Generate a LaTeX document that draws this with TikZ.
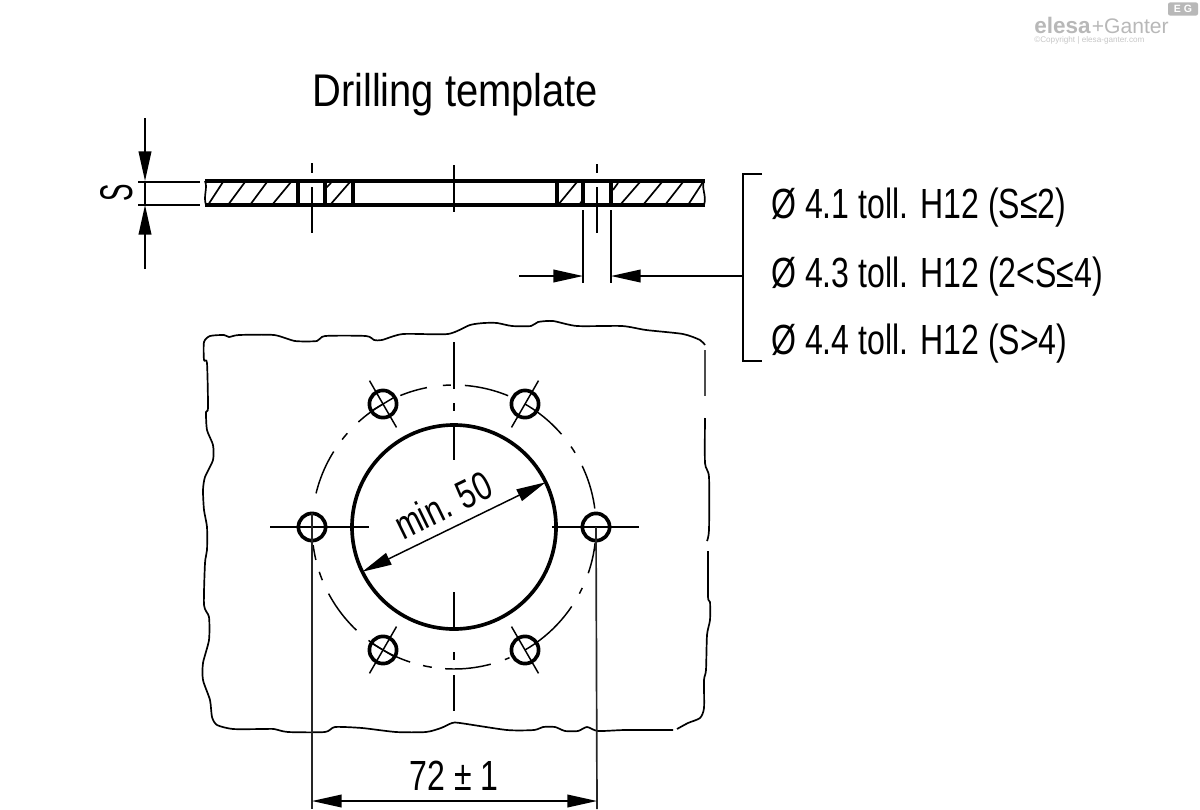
\documentclass[tikz,border=0pt]{standalone}
\usepackage{fontspec}
\usepackage{amsmath}
\usepackage{xcolor}
\usetikzlibrary{positioning,shapes,arrows.meta}
\setmainfont{Liberation Sans}
\newfontfamily\labelfont[FakeStretch=0.76]{Liberation Sans}
\newfontfamily\titlefont[FakeStretch=0.87]{Liberation Sans}
\definecolor{logogray}{gray}{0.72}

\begin{document}
\begin{tikzpicture}[x=0.025cm,y=-0.025cm]
\useasboundingbox (0,0) rectangle (1200,809);
\tikzstyle{thinline}=[line width=1.05pt,black]
\tikzstyle{midline}=[line width=1.2pt,black!85]
\tikzstyle{thickline}=[line width=2.6pt]
\tikzstyle{hatch}=[line width=1.2pt]
\tikzstyle{dimarrow}=[thinline,-{Triangle[length=21pt,width=9pt]}]
\tikzstyle{dimboth}=[thinline,{Triangle[length=21pt,width=9pt]}-{Triangle[length=21pt,width=9pt]}]
\tikzstyle{hole}=[draw,shape=circle,line width=2.6pt,minimum size=0.68cm,inner sep=0pt,outer sep=0pt]
\tikzstyle{bigtext}=[inner sep=0pt,anchor=base west,font=\labelfont\fontsize{30}{36}\selectfont]

% title and logo
\node[inner sep=0pt,anchor=base west,font=\titlefont\fontsize{32.6}{38}\selectfont] (title) at (312,106) {Drilling template};
\node[inner sep=0pt,anchor=base west,text=logogray,font=\bfseries\fontsize{16}{18}\selectfont] (elesa) at (1034,33) {elesa};
\node[inner sep=0pt,text=logogray,font=\fontsize{15}{18}\selectfont,right=0.5pt of elesa.base east,anchor=base west] (ganter) {+Ganter};
\node[inner sep=0pt,anchor=base west,text=logogray!80,font=\fontsize{5.8}{7}\selectfont] (copy) at (1034,42) {©Copyright | elesa-ganter.com};
\node[fill=logogray,rounded corners=1.5pt,inner sep=0pt,minimum width=0.75cm,minimum height=0.33cm,text=white,font=\bfseries\fontsize{7.5}{8}\selectfont] (eg) at (1183,9) {E G};

% section of the plate
\draw[thickline] (205,181) -- (705,181) (205,205) -- (705,205);
\draw[thickline] (298,181) -- (298,205) (325,181) -- (325,205) (353,181) -- (353,205);
\draw[thickline] (557,181) -- (557,205) (583,181) -- (583,205) (611,181) -- (611,205);
\draw[hatch] (205,181) .. controls (208,188) and (203,196) .. (206,205);
\draw[hatch] (704,181) .. controls (701,188) and (707,196) .. (704,205);
\foreach \a/\b in {208/223,228/245,250/267,272/291,330/350,558/577,620/640,643/662,665/683,688/703}
  \draw[hatch] (\a,205) -- (\b,182);
\draw[hatch] (326,188) -- (331,183) (613,190) -- (618,183) (579,205) -- (582,201);
\draw[thinline] (312,163) -- (312,173) (312,187) -- (312,233);
\draw[thinline] (454,165) -- (454,212);
\draw[thinline] (597,164) -- (597,173) (597,187) -- (597,233);

% dimension S
\coordinate (s1) at (145,118);
\coordinate (s2) at (145,181);
\coordinate (s3) at (145,205);
\coordinate (s4) at (145,269);
\draw[dimarrow] (s1) -- (s2);
\draw[dimarrow] (s4) -- (s3);
\draw[thinline] (s2) -- (s3);
\draw[thinline] (138,182) -- (200,182) (138,205) -- (200,205);
\node[inner sep=0pt,rotate=90,font=\labelfont\fontsize{32.6}{38}\selectfont] (sname) at (117,193) {\scalebox{0.75}[1]{S}};

% hole dimension with bracket
\coordinate (b1) at (762,174);
\coordinate (b2) at (743,174);
\coordinate (b3) at (743,361);
\coordinate (b4) at (762,361);
\coordinate (lead) at (743,276);
\coordinate (d1) at (583,276);
\coordinate (d2) at (611,276);
\coordinate (d0) at (519,276);
\draw[thinline] (b1) -- (b2) -- (b3) -- (b4);
\draw[dimarrow] (d0) -- (d1);
\draw[dimarrow] (lead) -- (d2);
\draw[thinline] (583,210) -- (583,283) (611,210) -- (611,283);
\node[bigtext] (tol1) at (771,218) {Ø 4.1 toll. H12 (S≤2)};
\node[bigtext] (tol2) at (771,287) {Ø 4.3 toll. H12 (2<S≤4)};
\node[bigtext] (tol3) at (771,354) {Ø 4.4 toll. H12 (S>4)};

% plate outline
\draw[line width=1.2pt] plot[smooth,tension=0.4] coordinates {(705,345) (700,340) (683,334) (646,330) (622,326) (577,326) (553,321) (538,322) (531,326) (512,326) (497,323) (484,323) (470,325) (448,334) (403,334) (382,340) (374,340) (366,336) (325,336) (317,341) (295,341) (274,335) (239,335) (229,337) (224,335) (210,336) (204,342) (204,360) (207,363) (208,408) (206,412) (207,430) (213,445) (213,460) (205,477) (203,490) (204,510) (207,527) (207,550) (205,563) (204,605) (209,617) (209,640) (203,663) (203,680) (210,700) (212,717) (217,725) (233,729) (263,729) (274,729) (288,732) (325,732) (335,727) (362,728) (396,732) (426,732) (441,728) (452,723) (460,723) (507,730) (534,730) (543,727) (555,727) (565,731) (578,731) (587,727) (598,731) (625,730) (673,730)};
\draw[line width=1.2pt] plot[smooth,tension=0.4] coordinates {(677,729) (688,723) (700,718) (704,708) (704,680) (706,670) (707,635) (710,620) (710,602) (708,597) (708,551)};
\draw[line width=1.2pt] plot[smooth,tension=0.4] coordinates {(707,541) (709,530) (709,477) (705,463) (705,418)};
\draw[line width=1.2pt,black!70] (705,350) -- (705,396);

% bolt circle, broken by hand
\foreach \a/\b in {112.2/101,94.5/91.3,85.6/67.6,60/40.8,34.5/31.5,25.5/7.5,-6.5/-19,-25.4/-28,-34/-60,-67/-69,-75/-93.6,-99/-102.6,-108/-127,-133.4/-152,-158/-161.6,-166.6/-172.7,166.3/147.9,142/138.7,132.3/120}
  \draw[thinline] plot[domain=\a:\b,samples=12] ({454+142*cos(\x)},{527-142*sin(\x)});

% holes and center lines
\foreach \a in {0,60,120,180,240,300}
  \node[hole] (h\a) at ({454+142*cos(\a)},{527-142*sin(\a)}) {};
\foreach \a in {60,120,240,300}
  \draw[thinline] ({454+115*cos(\a)},{527-115*sin(\a)}) -- ({454+169*cos(\a)},{527-169*sin(\a)});
\draw[thinline] (h120.center) ++(-10,6) -- ++(20,-12);
\draw[thinline] (h240.center) ++(-10,-6) -- ++(20,12);
\draw[thinline] (270,527) -- (369,527) (552,527) -- (639,527);
\draw[thinline] (454,342) -- (454,389) (454,403) -- (454,411) (454,425) -- (454,460);
\draw[thinline] (454,592) -- (454,629) (454,652) -- (454,660) (454,675) -- (454,711);

% bore with its diameter
\node[draw,shape=circle,line width=2.6pt,minimum size=5.1cm,inner sep=0pt,outer sep=0pt] (bore) at (454,527) {};
\draw[dimboth] (bore.206) -- (bore.26);
\node[inner sep=0pt,rotate=26,font=\labelfont\fontsize{28.5}{36}\selectfont] (minsize) at (443,505) {min. 50};

% dimension 72
\coordinate (e1) at (312,809);
\coordinate (e2) at (597,809);
\coordinate (d3) at (312,801);
\coordinate (d4) at (597,801);
\draw[midline] (h180.north) -- (e1);
\draw[midline] (h0.center) -- (e2);
\draw[dimboth] (d3) -- (d4);
\node[inner sep=0pt,anchor=base,font=\labelfont\fontsize{30}{36}\selectfont] (pitch) at (454,790) {72 ± 1};
\end{tikzpicture}
\end{document}
